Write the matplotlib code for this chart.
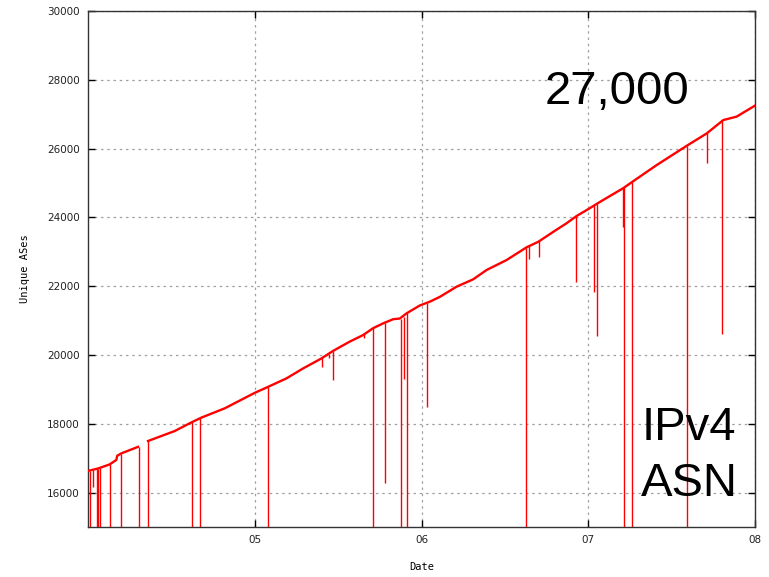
import numpy as np
import matplotlib
matplotlib.use("Agg")
import matplotlib.pyplot as plt

# Base series (decimal year, unique ASes); NaN marks a data gap
dates = [2004.00, 2004.06, 2004.13, 2004.17, 2004.175, 2004.20, 2004.30, 2004.305,
         2004.36, 2004.52, 2004.62, 2004.68, 2004.82, 2005.00, 2005.06, 2005.19,
         2005.29, 2005.40, 2005.47, 2005.57, 2005.65, 2005.71, 2005.77, 2005.83,
         2005.87, 2005.91, 2005.99, 2006.05, 2006.11, 2006.21, 2006.31, 2006.39,
         2006.51, 2006.63, 2006.70, 2006.79, 2006.87, 2006.93, 2007.01, 2007.07,
         2007.21, 2007.26, 2007.41, 2007.59, 2007.71, 2007.81, 2007.89, 2008.00]
ases = [16630, 16700, 16820, 16950, 17070, 17140, 17330, np.nan,
        17500, 17790, 18040, 18180, 18450, 18900, 19030, 19320,
        19610, 19900, 20120, 20390, 20580, 20780, 20920, 21040,
        21060, 21210, 21440, 21550, 21690, 21985, 22200, 22470,
        22760, 23130, 23290, 23580, 23830, 24040, 24270, 24450,
        24850, 25020, 25520, 26080, 26440, 26830, 26930, 27250]

# Downward spikes: date, value at top (on the line), value at bottom
spike_dates = [2004.012, 2004.027, 2004.051, 2004.062, 2004.072, 2004.132, 2004.198,
               2004.303, 2004.362, 2004.622, 2004.673, 2005.082, 2005.401, 2005.445,
               2005.467, 2005.655, 2005.707, 2005.779, 2005.879, 2005.893, 2005.915,
               2006.031, 2006.625, 2006.646, 2006.705, 2006.927, 2007.036, 2007.051,
               2007.210, 2007.216, 2007.261, 2007.594, 2007.714, 2007.802]
spike_top = [16640, 16650, 16690, 16700, 16720, 16820, 17130,
             17330, 17500, 18040, 18170, 19060, 19900, 20030,
             20110, 20600, 20780, 20930, 21050, 21100, 21210,
             21520, 23110, 23160, 23300, 24030, 24350, 24400,
             24850, 24870, 25020, 26090, 26440, 26800]
spike_low = [0, 16150, 0, 0, 0, 0, 0,
             0, 0, 0, 0, 0, 19660, 19900,
             19270, 20480, 0, 16270, 0, 19300, 0,
             18500, 0, 22800, 22860, 22130, 21840, 20560,
             23730, 0, 0, 0, 25590, 20600]

x_ticks = [2005, 2006, 2007, 2008]
x_labels = ["05", "06", "07", "08"]
y_ticks = list(range(16000, 30001, 2000))

fig = plt.figure(figsize=(7.69, 5.77), dpi=100)
ax = fig.add_axes([88/769, 50/577, (755-88)/769, (527-11)/577])

ax.vlines(spike_dates, spike_low, spike_top, colors="#ff0000", linewidth=1.0, zorder=3)
ax.plot(dates, ases, color="#ff0000", linewidth=1.7, zorder=4)

ax.set_xlim(2004.0, 2008.0)
ax.set_ylim(15000, 30000)
ax.set_xticks(x_ticks)
ax.set_xticklabels(x_labels)
ax.set_yticks(y_ticks)
ax.set_yticklabels([str(v) for v in y_ticks])

ax.tick_params(direction="in", length=5, width=1, top=True, right=True,
               labelsize=7.5, colors="#000000", pad=6)
for lab in ax.get_xticklabels() + ax.get_yticklabels():
    lab.set_color("#222222")
ax.grid(True, color="#a0a0a0", linestyle=(0, (2, 3)), linewidth=0.9)
ax.set_axisbelow(True)
for s in ax.spines.values():
    s.set_color("#333333")
    s.set_linewidth(1.0)

ax.set_xlabel("Date", fontsize=7.5, family="DejaVu Sans Mono", labelpad=12)
ax.set_ylabel("Unique ASes", fontsize=7.5, family="DejaVu Sans Mono", labelpad=12)

def fy(py):
    return 1 - py / 577

ax.text(617/769, fy(104), "27,000", transform=fig.transFigure, ha="center",
        va="baseline", fontsize=34, family="Liberation Sans", color="#000000")
ax.text(689/769, fy(440), "IPv4", transform=fig.transFigure, ha="center",
        va="baseline", fontsize=34, family="Liberation Sans", color="#000000")
ax.text(689/769, fy(496), "ASN", transform=fig.transFigure, ha="center",
        va="baseline", fontsize=34, family="Liberation Sans", color="#000000")

fig.savefig("out.png", dpi=100)
